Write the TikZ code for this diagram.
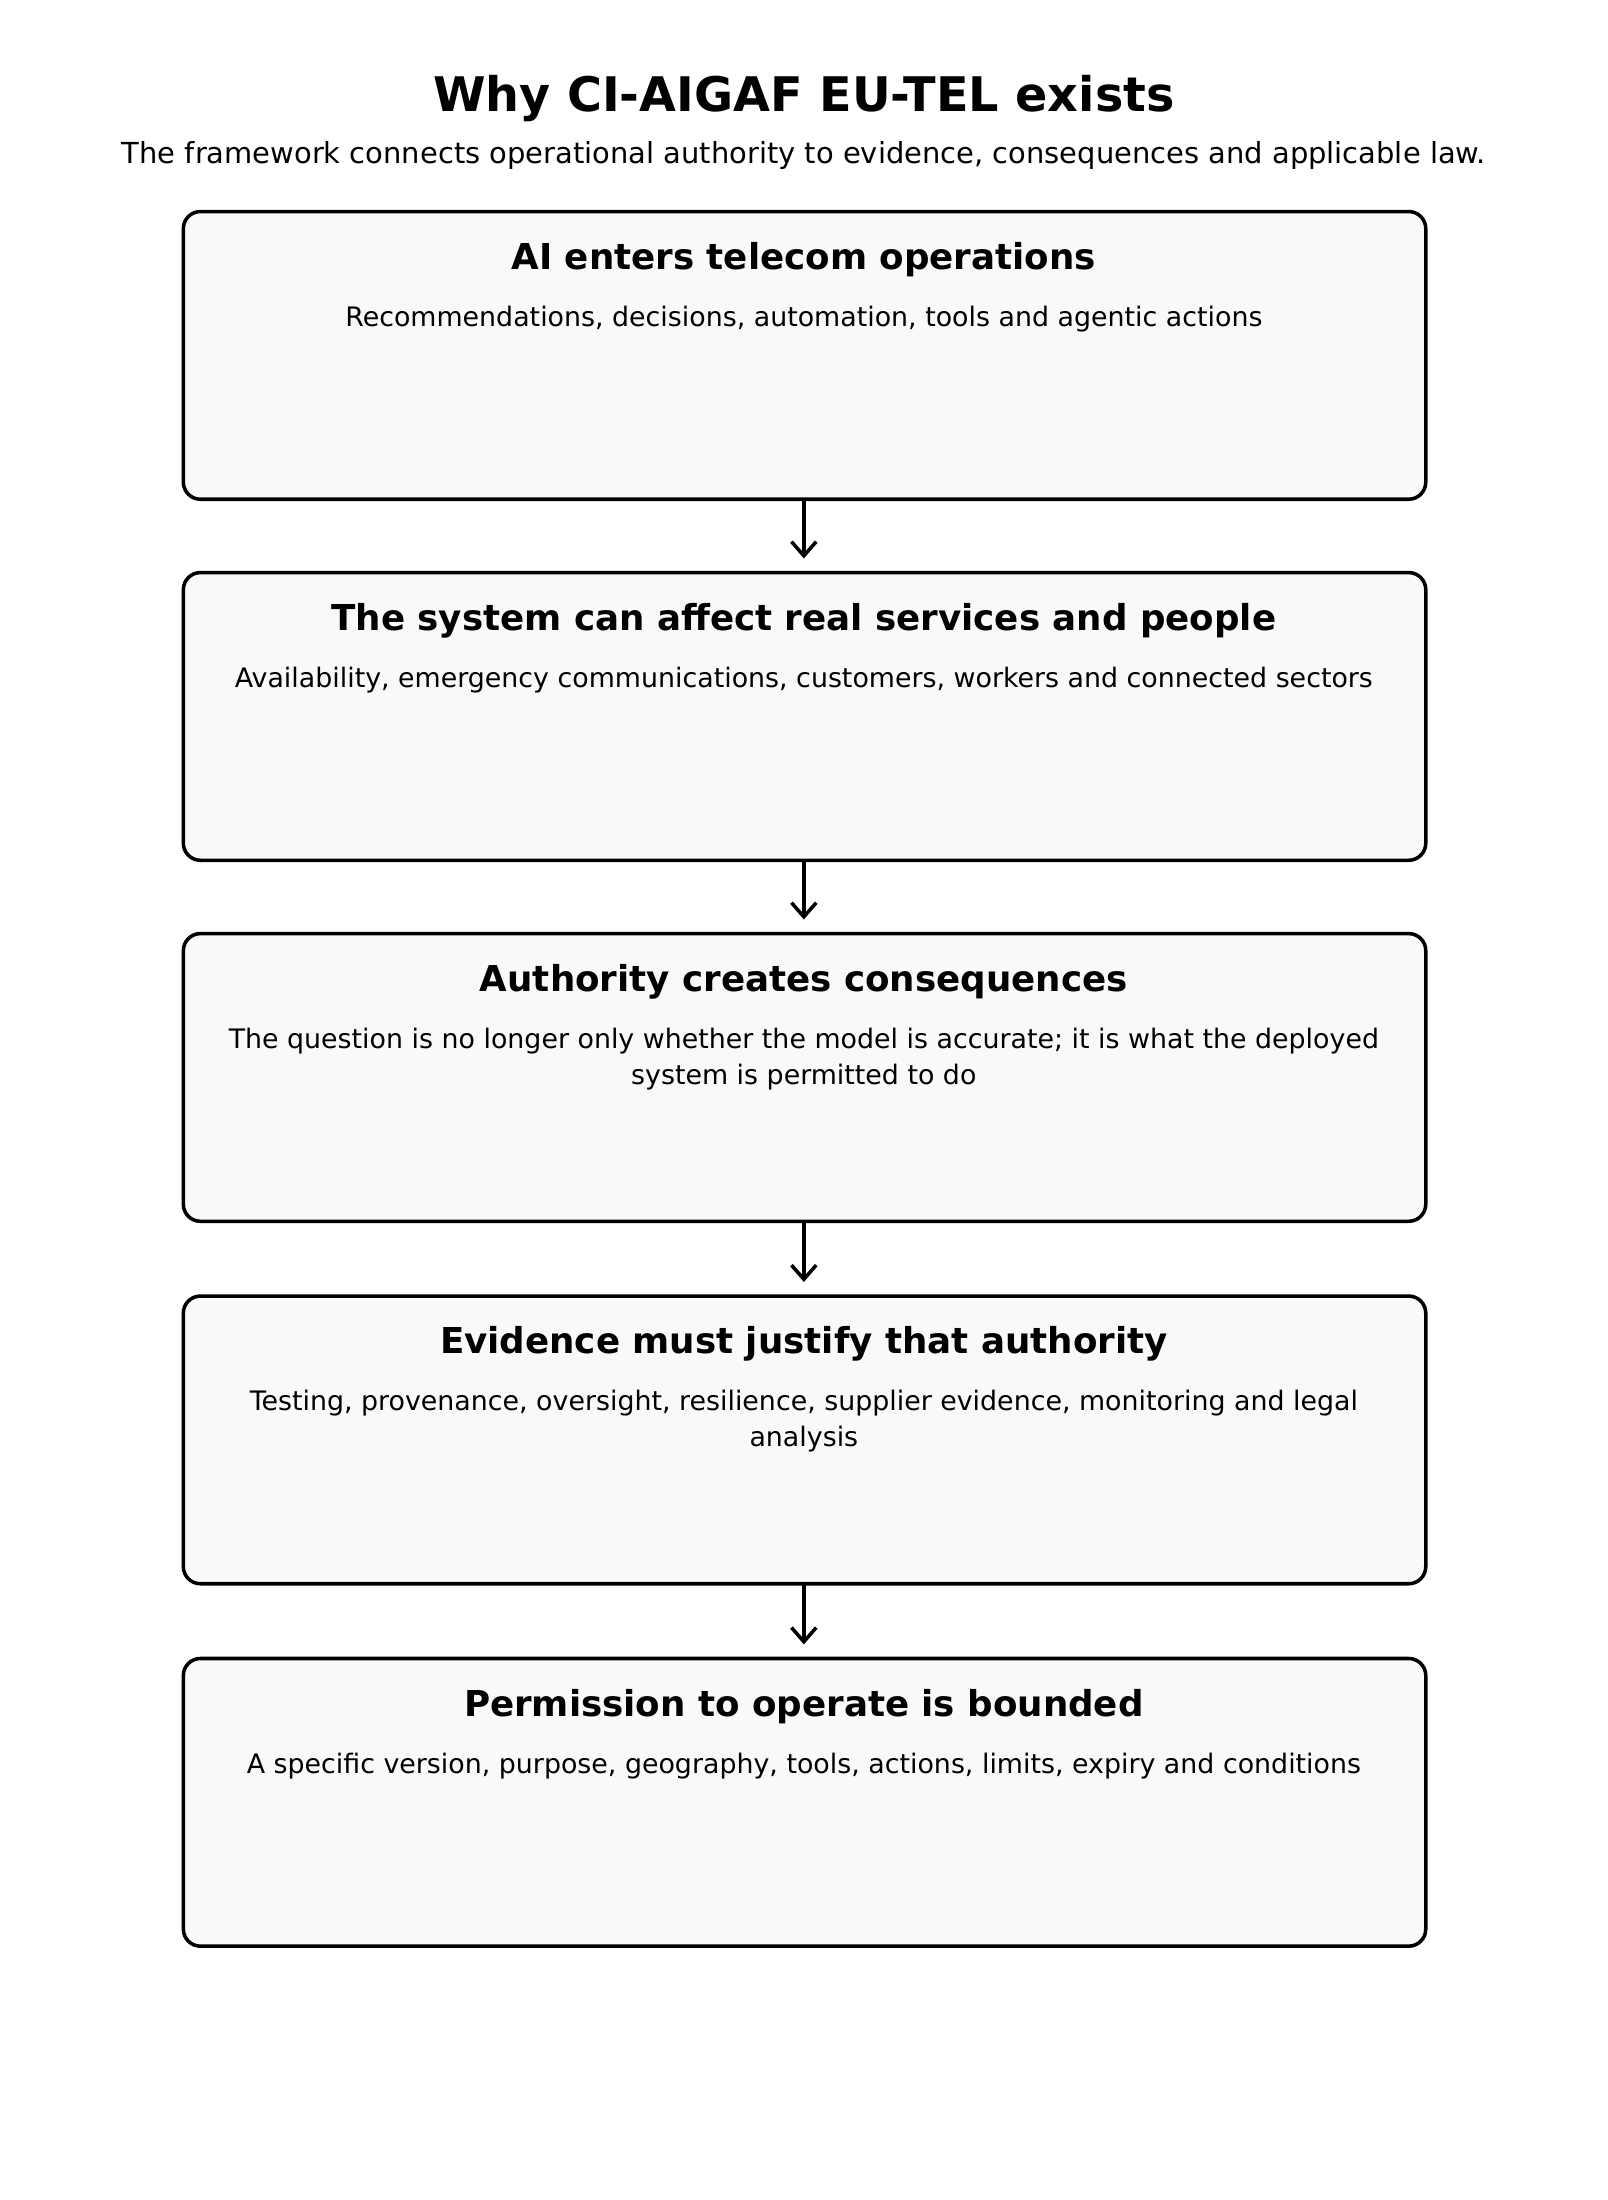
\documentclass[tikz,border=0pt]{standalone}
\usepackage{fontspec}
\setmainfont{DejaVu Sans}
\usetikzlibrary{arrows.meta}
\definecolor{boxfill}{HTML}{F8F9FB}
\begin{document}
\begin{tikzpicture}[x=0.014035cm,y=-0.014035cm,
  box/.style={draw=black,line width=1pt,fill=boxfill,rounded corners=0.17cm},
  ttl/.style={font=\bfseries\fontsize{10.1}{12}\selectfont,anchor=center},
  body/.style={font=\fontsize{7.6}{10.2}\selectfont,align=center,anchor=north},
  arr/.style={-{Straight Barb[length=4pt,width=7pt]},line width=1pt}]
\useasboundingbox (0,0) rectangle (1140,1560);
\node[font=\bfseries\fontsize{13.5}{16}\selectfont] (t) at (570,70) {Why CI-AIGAF EU-TEL exists};
\node[font=\fontsize{8.2}{10}\selectfont] (s) at (570,110) {The framework connects operational authority to evidence, consequences and applicable law.};
\foreach \i/\y/\T/\B in {
 1/150/{AI enters telecom operations}/{Recommendations, decisions, automation, tools and agentic actions},
 2/406/{The system can affect real services and people}/{Availability, emergency communications, customers, workers and connected sectors},
 3/662/{Authority creates consequences}/{The question is no longer only whether the model is accurate; it is what the deployed\\system is permitted to do},
 4/919/{Evidence must justify that authority}/{Testing, provenance, oversight, resilience, supplier evidence, monitoring and legal\\analysis},
 5/1176/{Permission to operate is bounded}/{A specific version, purpose, geography, tools, actions, limits, expiry and conditions}}{
 \draw[box] (130,\y) rectangle (1011,\y+204);
 \coordinate (bot\i) at (570,\y+204);
 \coordinate (e\i) at (570,\y-10);
 \node[ttl] (h\i) at (570,\y+34) {\T};
 \node[body] (b\i) at (570,\y+58) {\B};
}
\draw[arr] (bot1) -- (e2);
\draw[arr] (bot2) -- (e3);
\draw[arr] (bot3) -- (e4);
\draw[arr] (bot4) -- (e5);
\end{tikzpicture}
\end{document}
